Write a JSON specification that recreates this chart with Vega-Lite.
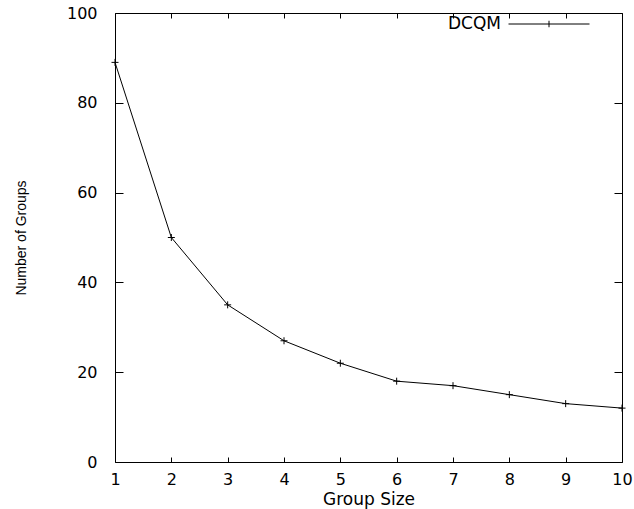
{
  "$schema": "https://vega.github.io/schema/vega-lite/v6.json",
  "width": 507,
  "height": 449,
  "autosize": {"type": "none"},
  "padding": {"left": 115, "top": 13, "right": 12, "bottom": 47},
  "background": "white",
  "config": {
    "view": {"stroke": "black", "strokeWidth": 1},
    "axis": {
      "domain": false,
      "ticks": false,
      "grid": true,
      "gridColor": "black",
      "gridOpacity": 1,
      "gridWidth": 1,
      "labelColor": "black",
      "labelFont": "DejaVu Sans",
      "labelFontSize": 16,
      "titleColor": "black",
      "titleFontWeight": "normal"
    }
  },
  "data": {
    "values": [
      {"size": 1, "groups": 89},
      {"size": 2, "groups": 50},
      {"size": 3, "groups": 35},
      {"size": 4, "groups": 27},
      {"size": 5, "groups": 22},
      {"size": 6, "groups": 18},
      {"size": 7, "groups": 17},
      {"size": 8, "groups": 15},
      {"size": 9, "groups": 13},
      {"size": 10, "groups": 12}
    ]
  },
  "encoding": {
    "x": {
      "field": "size", "type": "quantitative",
      "scale": {"domain": [1, 10], "nice": false, "zero": false},
      "axis": {"values": [1,2,3,4,5,6,7,8,9,10], "labelPadding": 9, "labelFlush": false,
               "gridDash": [5, 439, 5, 1000],
               "title": "Group Size", "titleFont": "DejaVu Sans", "titleFontSize": 17, "titlePadding": 4}
    },
    "y": {
      "field": "groups", "type": "quantitative",
      "scale": {"domain": [0, 100], "nice": false},
      "axis": {"values": [0,20,40,60,80,100], "labelPadding": 18, "labelFlush": false,
               "gridDash": [8, 491, 8, 1000],
               "title": "Number of Groups", "titleFont": "Liberation Sans", "titleFontSize": 14, "titlePadding": 38}
    }
  },
  "layer": [
    {
      "mark": {"type": "line", "color": "black", "strokeWidth": 1},
      "encoding": {
        "color": {
          "datum": "DCQM", "type": "nominal",
          "scale": {"range": ["black"]},
          "legend": {
            "title": null, "orient": "none", "legendX": 393, "legendY": -30, "padding": 0,
            "symbolType": "M-1,0L1,0M0,-0.08L0,0.08",
            "symbolSize": 6561, "symbolStrokeWidth": 1, "symbolStrokeColor": "black", "symbolFillColor": "transparent",
            "labelAlign": "right", "labelOffset": -89,
            "labelFont": "DejaVu Sans", "labelFontSize": 17, "labelColor": "black"
          }
        }
      }
    },
    {
      "mark": {"type": "point", "shape": "M-1,0L1,0M0,-1L0,1", "filled": false, "color": "black", "strokeWidth": 1, "size": 49, "opacity": 1}
    }
  ]
}
